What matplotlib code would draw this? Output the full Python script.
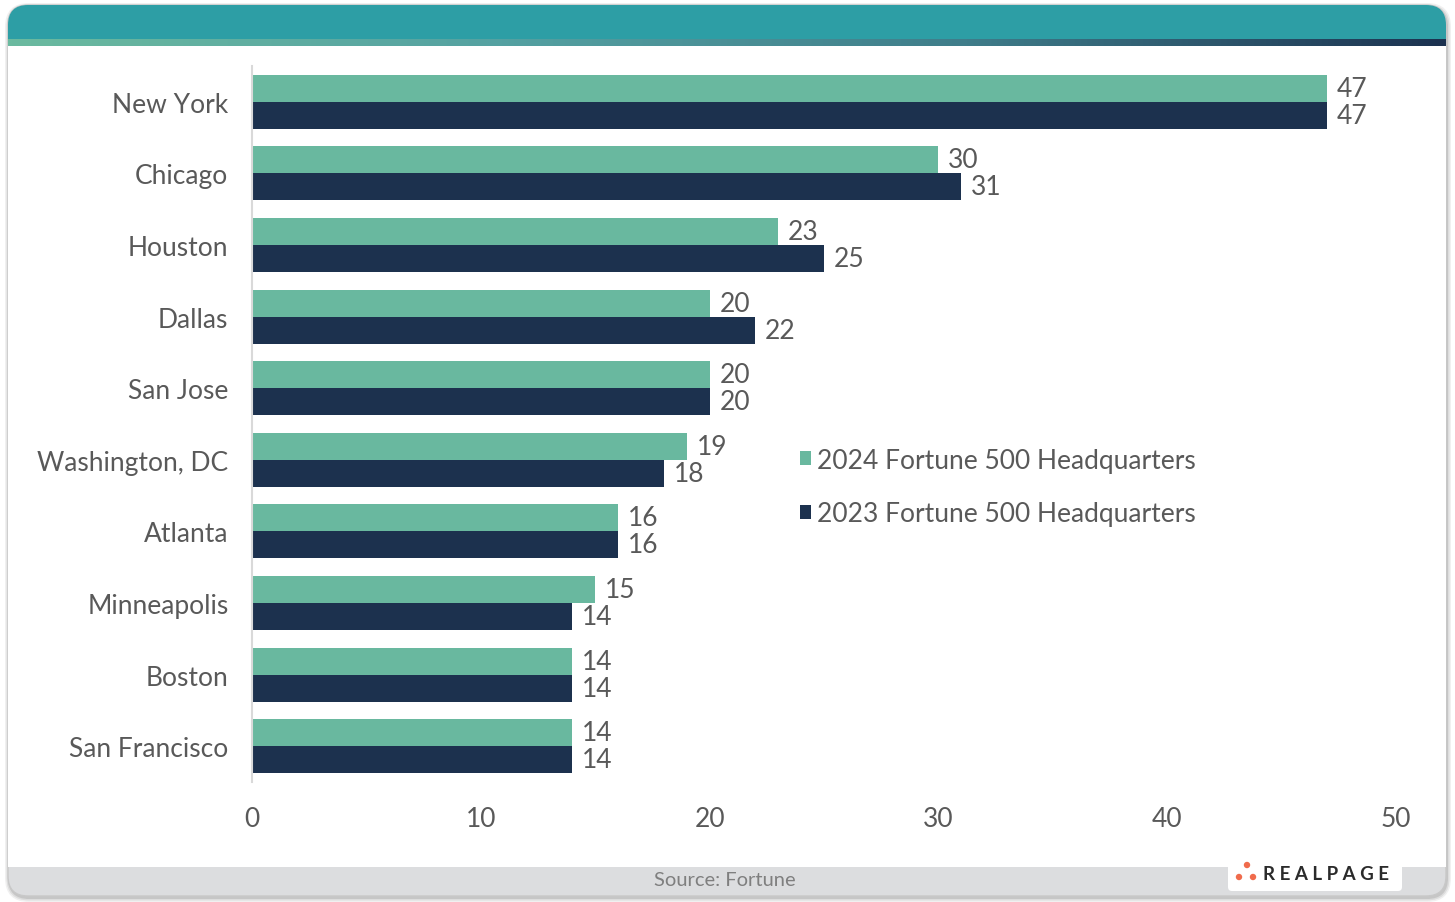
import numpy as np
import matplotlib
matplotlib.use("Agg")
import matplotlib.pyplot as plt
from matplotlib.patches import FancyBboxPatch, Rectangle, Circle
from matplotlib.colors import LinearSegmentedColormap

plt.rcParams["font.family"] = ["Lato", "DejaVu Sans"]

cities = ["New York", "Chicago", "Houston", "Dallas", "San Jose", "Washington, DC",
          "Atlanta", "Minneapolis", "Boston", "San Francisco"]
hq_2024 = [47, 30, 23, 20, 20, 19, 16, 15, 14, 14]
hq_2023 = [47, 31, 25, 22, 20, 18, 16, 14, 14, 14]
series_labels = ["2024 Fortune 500 Headquarters", "2023 Fortune 500 Headquarters"]
x_ticks = [0, 10, 20, 30, 40, 50]

C24 = "#69B89F"
C23 = "#1C314E"
TXT = "#595959"
FS = 19

W, H = 1455, 903
fig = plt.figure(figsize=(W / 100, H / 100), dpi=100)

# ---- card background drawn in pixel coordinates
bg = fig.add_axes([0, 0, 1, 1], zorder=0)
bg.set_xlim(0, W); bg.set_ylim(H, 0); bg.axis("off")

L, R, T, B = 8, 1446, 6, 897
rad = 20
# soft shadow
for i, a in enumerate([0.10, 0.08, 0.06]):
    d = 1 + i * 1.5
    bg.add_patch(FancyBboxPatch((L - d + 1, T - d + 2), R - L + 2 * d, B - T + 2 * d,
                                boxstyle=f"round,pad=0,rounding_size={rad + d}",
                                fc="black", ec="none", alpha=a, zorder=0))
# footer grey base
bg.add_patch(FancyBboxPatch((L, T), R - L, B - T, boxstyle=f"round,pad=0,rounding_size={rad}",
                            fc="#DCDDDF", ec="#C8C8C8", lw=1, zorder=1))
# teal top band
bg.add_patch(FancyBboxPatch((L, T), R - L, 80, boxstyle=f"round,pad=0,rounding_size={rad}",
                            fc="#2D9EA5", ec="none", zorder=2))
# white body
bg.add_patch(Rectangle((L, 47), R - L, 868 - 47, fc="white", ec="none", zorder=3))
# gradient strip
cmap = LinearSegmentedColormap.from_list("strip", ["#6BBA9F", "#55A2A2", "#3F7D8A", "#1C3250"])
grad = np.linspace(0, 1, 512).reshape(1, -1)
bg.imshow(grad, cmap=cmap, extent=[L, R, 47, 40], aspect="auto", zorder=4)
bg.set_xlim(0, W); bg.set_ylim(H, 0)

# source text
bg.text(725, 881, "Source: Fortune", ha="center", va="center", fontsize=14.5, color="#7F7F7F", zorder=5)

# RealPage logo box
bg.add_patch(FancyBboxPatch((1228, 860), 174, 32, boxstyle="round,pad=0,rounding_size=4",
                            fc="white", ec="none", zorder=5))
for (cx, cy) in [(1247, 866), (1239, 878), (1253, 878)]:
    bg.add_patch(Circle((cx, cy), 3.2, fc="#F06B4C", ec="none", zorder=6))
bg.text(1263, 875, "R E A L P A G E", ha="left", va="center", fontsize=13.5,
        fontweight="bold", color="#2B2B2B", zorder=6)

# ---- main chart
ax = fig.add_axes([252 / W, 1 - 783 / H, (1396 - 252) / W, (783 - 67) / H], zorder=2)
ax.patch.set_alpha(0)

y = np.arange(len(cities))
h = 0.377
b24 = ax.barh(y - h / 2, hq_2024, height=h, color=C24, label=series_labels[0])
b23 = ax.barh(y + h / 2, hq_2023, height=h, color=C23, label=series_labels[1])

for bars, vals in [(b24, hq_2024), (b23, hq_2023)]:
    for rect, v in zip(bars, vals):
        ax.annotate(f"{v}", (rect.get_width(), rect.get_y() + rect.get_height() / 2),
                    xytext=(7, 0), textcoords="offset points", ha="left", va="center",
                    fontsize=FS, color=TXT)

ax.set_ylim(len(cities) - 0.5, -0.5)
ax.set_xlim(0, 50)
ax.set_yticks(y)
ax.set_yticklabels(cities)
ax.set_xticks(x_ticks)
ax.tick_params(axis="both", length=0, labelsize=FS, labelcolor=TXT)
ax.tick_params(axis="y", pad=17)
ax.tick_params(axis="x", pad=17)
for s in ["top", "right", "bottom"]:
    ax.spines[s].set_visible(False)
ax.spines["left"].set_color("#D9D9D9")
ax.spines["left"].set_linewidth(1.5)

leg = ax.legend(loc="upper left", bbox_to_anchor=(0.458, 0.5), frameon=False,
                fontsize=FS, labelcolor=TXT, handlelength=0.42, handleheight=0.42,
                handletextpad=0.25, labelspacing=1.08)

fig.savefig("out.png", dpi=100)
